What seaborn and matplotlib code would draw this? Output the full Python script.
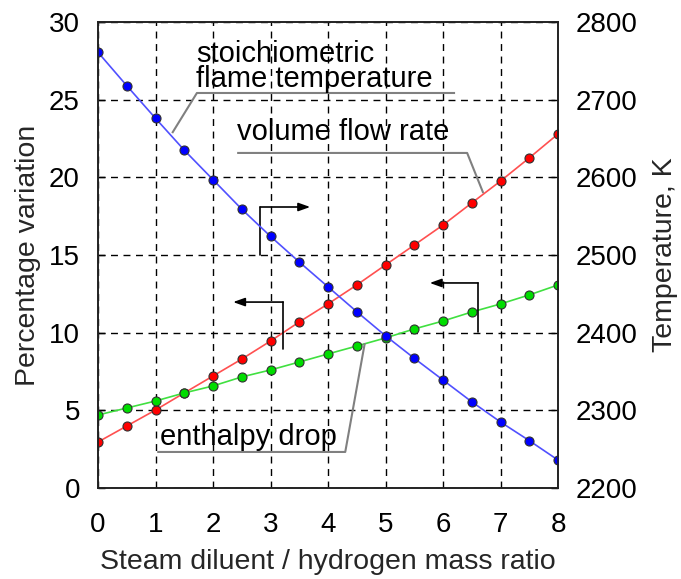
import numpy as np
import pandas as pd
import matplotlib
matplotlib.use("Agg")
import matplotlib.pyplot as plt
import seaborn as sns

# Steam diluent / hydrogen mass ratio
ratio = [0, 0.5, 1, 1.5, 2, 2.5, 3, 3.5, 4, 4.5, 5, 5.5, 6, 6.5, 7, 7.5, 8]

# Percentage variation (left axis)
volume_flow = [2.96, 3.99, 5.02, 6.12, 7.21, 8.30, 9.46, 10.69, 11.85, 13.07,
               14.36, 15.64, 16.93, 18.35, 19.76, 21.25, 22.79]
enthalpy_drop = [4.70, 5.15, 5.60, 6.12, 6.57, 7.15, 7.60, 8.11, 8.63, 9.14,
                 9.66, 10.24, 10.75, 11.33, 11.85, 12.43, 13.07]

# Stoichiometric flame temperature, K (right axis)
flame_temp = [2761, 2718, 2676, 2635, 2597, 2559, 2524, 2491, 2459, 2427,
              2396, 2367, 2339, 2311, 2285, 2261, 2236]

x_ticks = [0, 1, 2, 3, 4, 5, 6, 7, 8]
left_ticks = [0, 5, 10, 15, 20, 25, 30]
right_ticks = [2200, 2300, 2400, 2500, 2600, 2700, 2800]

sns.set_style("white")
plt.rcParams["font.family"] = ["Liberation Sans", "DejaVu Sans"]

df = pd.DataFrame({"ratio": ratio, "volume": volume_flow,
                   "enthalpy": enthalpy_drop, "temp": flame_temp})

fig = plt.figure(figsize=(6.81, 5.79), dpi=100)
ax = fig.add_axes([98 / 681, 1 - 488 / 579, 460 / 681, 466 / 579])
ax2 = ax.twinx()

mk = dict(marker="o", markersize=6.5, markeredgecolor="#303030",
          markeredgewidth=0.8, linewidth=1.2)
sns.lineplot(data=df, x="ratio", y="volume", ax=ax, color="#ff5050",
             markerfacecolor="#ff0000", **mk)
sns.lineplot(data=df, x="ratio", y="enthalpy", ax=ax, color="#40e040",
             markerfacecolor="#00dd00", **mk)
sns.lineplot(data=df, x="ratio", y="temp", ax=ax2, color="#5050ff",
             markerfacecolor="#0000ff", **mk)

ax.set_xlim(0, 8)
ax.set_ylim(0, 30)
ax2.set_ylim(2200, 2800)
ax.set_xticks(x_ticks)
ax.set_yticks(left_ticks)
ax2.set_yticks(right_ticks)
ax.set_xticklabels([str(v) for v in x_ticks])
ax.set_yticklabels([str(v) for v in left_ticks])
ax2.set_yticklabels([str(v) for v in right_ticks])

ax.grid(True, color="black", linestyle=(0, (5, 4)), linewidth=1.0)
ax.set_axisbelow(True)

for a in (ax, ax2):
    a.tick_params(direction="in", length=5, width=1, labelsize=20,
                  colors="black", pad=13)
    for s in a.spines.values():
        s.set_color("#222222")
        s.set_linewidth(1.2)
ax.tick_params(axis="x", pad=17)

ax.set_xlabel("Steam diluent / hydrogen mass ratio", fontsize=20.5, labelpad=8)
ax.set_ylabel("Percentage variation", fontsize=20.5, labelpad=6)
ax2.set_ylabel("Temperature, K", fontsize=20.5, labelpad=10)

lead = dict(color="#808080", linewidth=1.5, solid_capstyle="butt")
txt = dict(fontsize=21, color="black", ha="left")

# stoichiometric flame temperature label and leader
ax.text(1.70, 28.84, "stoichiometric\nflame temperature", va="top",
        linespacing=0.86, **txt)
ax.plot([1.29, 1.72, 6.21], [22.85, 25.43, 25.43], **lead)

# volume flow rate label and leader
ax.text(2.42, 22.40, "volume flow rate", va="baseline", **txt)
ax.plot([2.42, 6.42, 6.70], [21.57, 21.57, 18.99], **lead)

# enthalpy drop label and leader
ax.text(1.08, 2.77, "enthalpy drop", va="baseline", **txt)
ax.plot([1.03, 4.30, 4.64], [2.32, 2.32, 9.33], **lead)

# axis indicator arrows
arr = dict(arrowstyle="-|>,head_length=0.7,head_width=0.25", color="black",
           lw=1.2, shrinkA=0, shrinkB=0)
line = dict(color="black", linewidth=1.2)
ax.plot([2.82, 2.82], [15.0, 18.09], **line)
ax.annotate("", xy=(3.69, 18.09), xytext=(2.82, 18.09), arrowprops=arr)
ax.plot([3.22, 3.22], [8.95, 11.97], **line)
ax.annotate("", xy=(2.35, 11.97), xytext=(3.22, 11.97), arrowprops=arr)
ax.plot([6.61, 6.61], [10.04, 13.2], **line)
ax.annotate("", xy=(5.77, 13.2), xytext=(6.61, 13.2), arrowprops=arr)

fig.savefig("out.png", dpi=100)
